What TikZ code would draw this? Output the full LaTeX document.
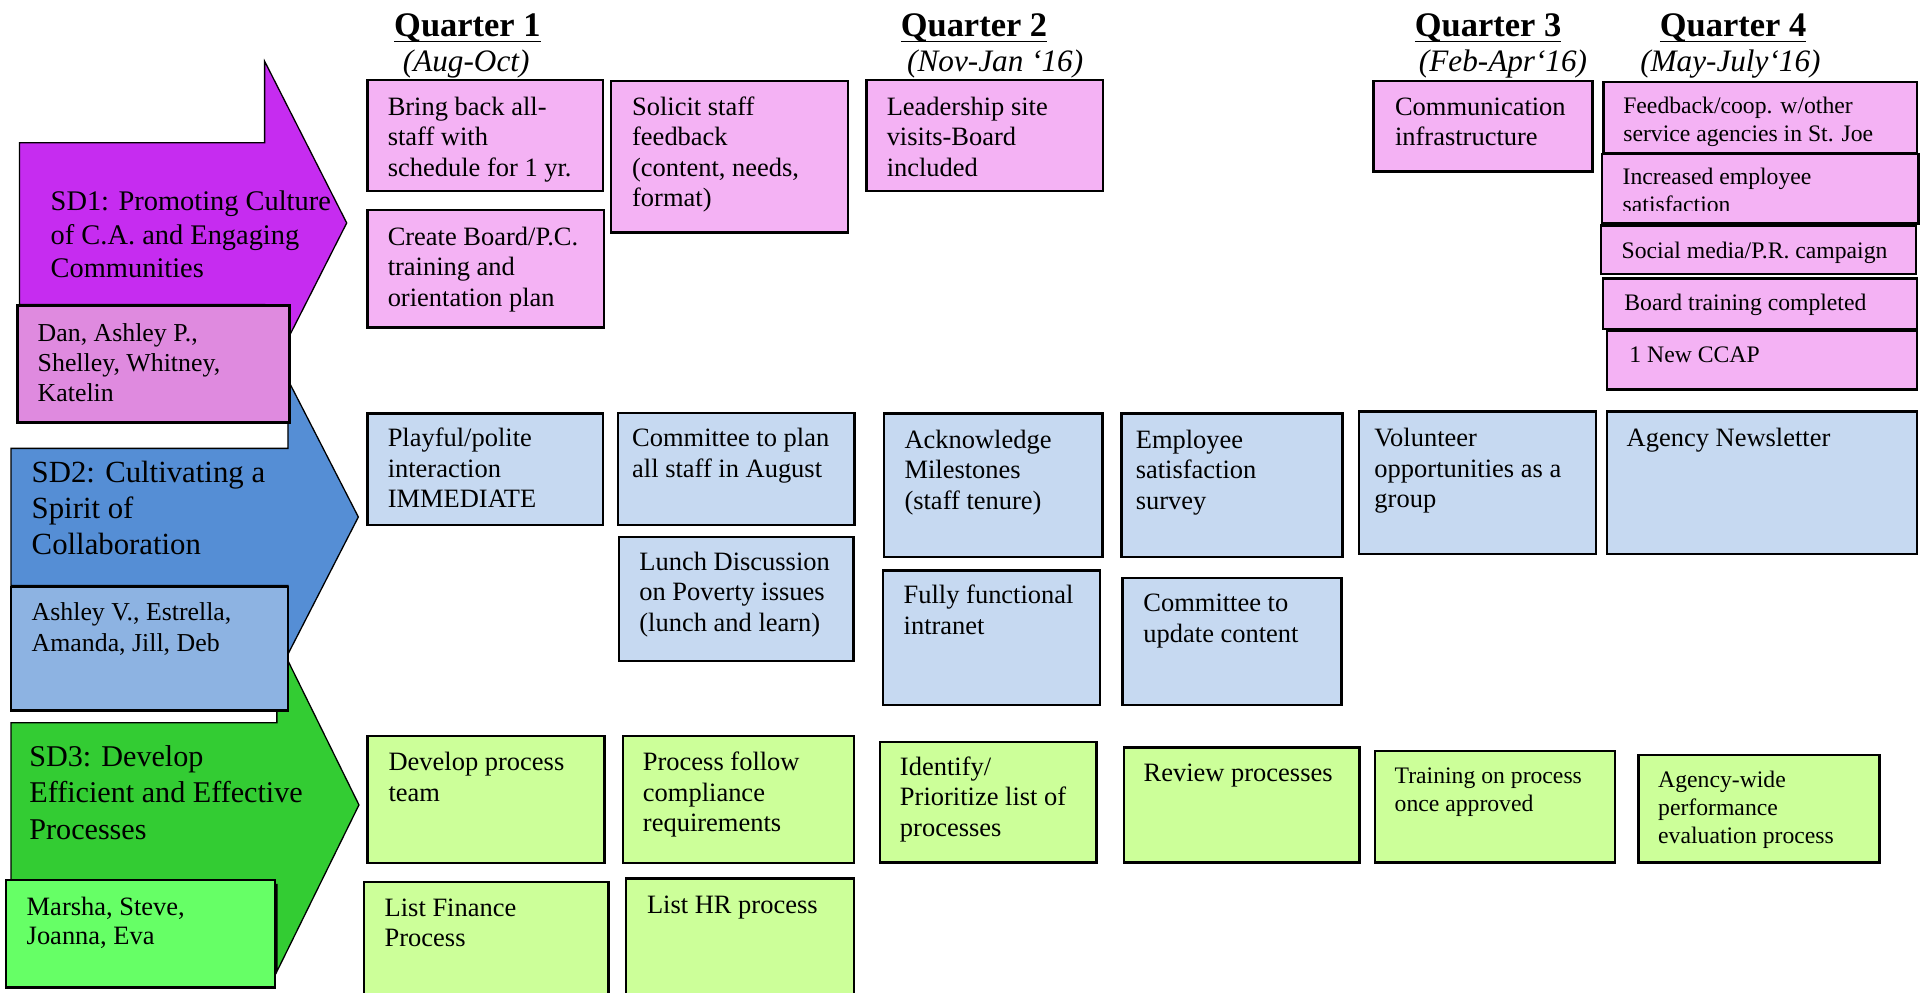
\documentclass[tikz,border=0pt]{standalone}
\usepackage{fontspec}
\setmainfont{Liberation Serif}
\usetikzlibrary{fit}
\definecolor{pinkbox}{RGB}{244,178,244}
\definecolor{danbox}{RGB}{223,138,223}
\definecolor{sdone}{RGB}{198,44,240}
\definecolor{sdtwo}{RGB}{85,142,213}
\definecolor{ashbox}{RGB}{141,179,226}
\definecolor{bluebox}{RGB}{198,217,241}
\definecolor{sdthree}{RGB}{51,204,51}
\definecolor{marbox}{RGB}{102,255,102}
\definecolor{greenbox}{RGB}{204,255,153}
\newcommand\fs[2]{\fontsize{#1}{#2}\selectfont}
\newcommand\tl[1]{\begin{tabular}[t]{@{}l@{}}#1\end{tabular}}
\newcommand\qul[1]{\setbox0\hbox{#1}\rlap{\rule[-3pt]{\wd0}{0.9pt}}\box0}
\newcommand\bx[6]{\node[box, fill=#2, fit={(#3,#4) (#5,#6)}] (#1) {};}
\newcommand\tx[5]{\node[txt, #4] (#1) at (#2,#3) {\tl{#5}};}
\tikzset{
  box/.style={draw=black, line width=1.1pt, inner sep=0pt, outer sep=0pt},
  txt/.style={anchor=base west, inner sep=0pt, outer sep=0pt},
  sdarrow/.style={draw=black, line width=0.6pt},
  tn/.style={font=\fs{12.3}{14.2}},
  ts/.style={font=\fs{11}{13}},
  tsdone/.style={font=\fs{13.2}{15.6}},
  tsdtwo/.style={font=\fs{14.3}{16.6}},
  tsdthree/.style={font=\fs{14}{17}},
  tdan/.style={font=\fs{12}{14}},
  tash/.style={font=\fs{12}{14.4}},
  tmar/.style={font=\fs{12.3}{13.9}},
  qhead/.style={anchor=base, inner sep=0pt, font=\fs{16}{19}\bfseries},
  qsub/.style={anchor=base, inner sep=0pt, font=\fs{14.5}{17}\itshape},
}
\begin{document}
\begin{tikzpicture}[x=0.02cm, y=-0.02cm]
\useasboundingbox (0,0) rectangle (1568,810);
\fill[white] (0,0) rectangle (1568,810);
\clip (0,0) rectangle (1568,810);

% quarter headings
\node[qhead] (q1) at (381.5,29.4) {\qul{Quarter 1}};
\node[qhead] (q2) at (795,29.4) {\qul{Quarter 2}};
\node[qhead] (q3) at (1214.6,29.4) {\qul{Quarter 3}};
\node[qhead] (q4) at (1414.6,29.4) {\qul{Quarter 4}};
\node[qsub] (q1m) at (380.5,58.5) {(Aug-Oct)};
\node[qsub] (q2m) at (812.3,58.5) {(Nov-Jan ‘16)};
\node[qsub] (q3m) at (1226.8,58.5) {(Feb-Apr‘16)};
\node[qsub] (q4m) at (1412.4,58.5) {(May-July‘16)};

% strategic direction arrows
\filldraw[sdarrow, fill=sdone] (16,116.5) -- (216,116.5) -- (216,50) -- (283,182) -- (216,314) -- (216,248.5) -- (16,248.5) -- cycle;
\filldraw[sdarrow, fill=sdtwo] (9,366) -- (235,366) -- (235,310) -- (292.5,422) -- (235,534) -- (235,478) -- (9,478) -- cycle;
\filldraw[sdarrow, fill=sdthree] (9,590) -- (226,590) -- (226,521) -- (293,657) -- (226,793) -- (226,722) -- (9,722) -- cycle;
\tx{sd1}{41.4}{172}{tsdone}{SD1: Promoting Culture\\of C.A. and Engaging\\Communities}
\tx{sd2}{25.9}{394}{tsdtwo}{SD2: Cultivating a\\Spirit of\\Collaboration}
\tx{sd3}{24}{625.3}{tsdthree}{SD3: Develop\\Efficient and Effective\\Processes}

% team boxes
\bx{dan}{danbox}{14.2}{249.5}{236.2}{345}
\tx{dant}{30.8}{278.9}{tdan}{Dan, Ashley P.,\\Shelley, Whitney,\\Katelin}
\bx{ash}{ashbox}{9}{479}{235}{580}
\tx{asht}{25.9}{506.6}{tash}{Ashley V., Estrella,\\Amanda, Jill, Deb}
\bx{mar}{marbox}{4.9}{718.3}{224.7}{806}
\tx{mart}{21.8}{746.9}{tmar}{Marsha, Steve,\\Joanna, Eva}

% SD1 row (pink)
\bx{b1}{pinkbox}{300}{65.3}{492.4}{155.9}
\tx{b1t}{316.5}{93.9}{tn}{Bring back all-\\staff with\\schedule for 1 yr.}
\bx{b2}{pinkbox}{300}{171.4}{493}{267.2}
\tx{b2t}{316.5}{200}{tn}{Create Board/P.C.\\training and\\orientation plan}
\bx{b3}{pinkbox}{498.9}{66.1}{692.4}{189.9}
\tx{b3t}{516}{93.9}{tn}{Solicit staff\\feedback\\(content, needs,\\format)}
\bx{b4}{pinkbox}{707.4}{65.3}{900.5}{155.9}
\tx{b4t}{723.8}{93.9}{tn}{Leadership site\\visits-Board\\included}
\bx{b5}{pinkbox}{1121.2}{66.1}{1299.7}{140.1}
\tx{b5t}{1138.7}{93.9}{tn}{Communication\\infrastructure}
\bx{qa}{pinkbox}{1308.7}{66.7}{1564.5}{125}
\tx{qat}{1325}{92.5}{ts}{Feedback/coop. w/other\\service agencies in St. Joe}
\bx{qb}{pinkbox}{1307.4}{125.7}{1565.8}{182.3}
\begin{scope}
\clip (1308,127) rectangle (1565,171.5);
\tx{qbt}{1324.5}{151}{ts}{Increased employee\\satisfaction}
\end{scope}
\bx{qc}{pinkbox}{1306.6}{184.2}{1564}{223.9}
\tx{qct}{1323.7}{210.9}{ts}{Social media/P.R. campaign}
\bx{qd}{pinkbox}{1308.2}{227.2}{1564.5}{268.8}
\tx{qdt}{1325.9}{253.6}{ts}{Board training completed}
\bx{qe}{pinkbox}{1311.5}{270.2}{1564.5}{317.8}
\tx{qet}{1330}{296}{ts}{1 New CCAP}

% SD2 row (blue)
\bx{c1}{bluebox}{299.9}{337.4}{492.4}{428.5}
\tx{c1t}{316.5}{364.6}{tn}{Playful/polite\\interaction\\IMMEDIATE}
\bx{c2}{bluebox}{504.4}{336.9}{697.5}{428.5}
\tx{c2t}{516}{364.6}{tn}{Committee to plan\\all staff in August}
\bx{c3}{bluebox}{505.1}{438.1}{696.8}{539.5}
\tx{c3t}{521.9}{465.3}{tn}{Lunch Discussion\\on Poverty issues\\(lunch and learn)}
\bx{c4}{bluebox}{721.6}{337.4}{899.8}{454.4}
\tx{c4t}{738.3}{365.9}{tn}{Acknowledge\\Milestones\\(staff tenure)}
\bx{c5}{bluebox}{720.5}{465.8}{897.6}{575.4}
\tx{c5t}{737.6}{492.9}{tn}{Fully functional\\intranet}
\bx{c6}{bluebox}{915.5}{337.4}{1095.7}{454.4}
\tx{c6t}{927.1}{365.9}{tn}{Employee\\satisfaction\\survey}
\bx{c7}{bluebox}{916.2}{471.6}{1095}{575.4}
\tx{c7t}{933.3}{499.2}{tn}{Committee to\\update content}
\bx{c8}{bluebox}{1109}{336}{1302.9}{452.2}
\tx{c8t}{1121.9}{364.6}{tn}{Volunteer\\opportunities as a\\group}
\bx{c9}{bluebox}{1311.6}{336}{1564.7}{452.2}
\tx{c9t}{1327.8}{364.6}{tn}{Agency Newsletter}

% SD3 row (green)
\bx{d1}{greenbox}{299.9}{600.8}{493.4}{704.2}
\tx{d1t}{317.2}{629.1}{tn}{Develop process\\team}
\bx{d2}{greenbox}{508.4}{600.8}{697.3}{704.2}
\tx{d2t}{524.8}{629.1}{tn}{Process follow\\compliance\\requirements}
\bx{d3}{greenbox}{297.1}{719.9}{496.7}{830}
\tx{d3t}{314}{747.7}{tn}{List Finance\\Process}
\bx{d4}{greenbox}{510.8}{717}{697.3}{830}
\tx{d4t}{528.1}{746}{tn}{List HR process}
\bx{d5}{greenbox}{718.3}{605.4}{895}{703.9}
\tx{d5t}{734.6}{632.6}{tn}{Identify/\\Prioritize list of\\processes}
\bx{d6}{greenbox}{917.2}{610}{1109.6}{703.9}
\tx{d6t}{933.5}{638}{tn}{Review processes}
\bx{d7}{greenbox}{1122.1}{613}{1318.3}{703.9}
\tx{d7t}{1138.4}{639.4}{ts}{Training on process\\once approved}
\bx{d8}{greenbox}{1337.3}{616.3}{1534}{703.9}
\tx{d8t}{1353.5}{642.7}{ts}{Agency-wide\\performance\\evaluation process}
\end{tikzpicture}
\end{document}
